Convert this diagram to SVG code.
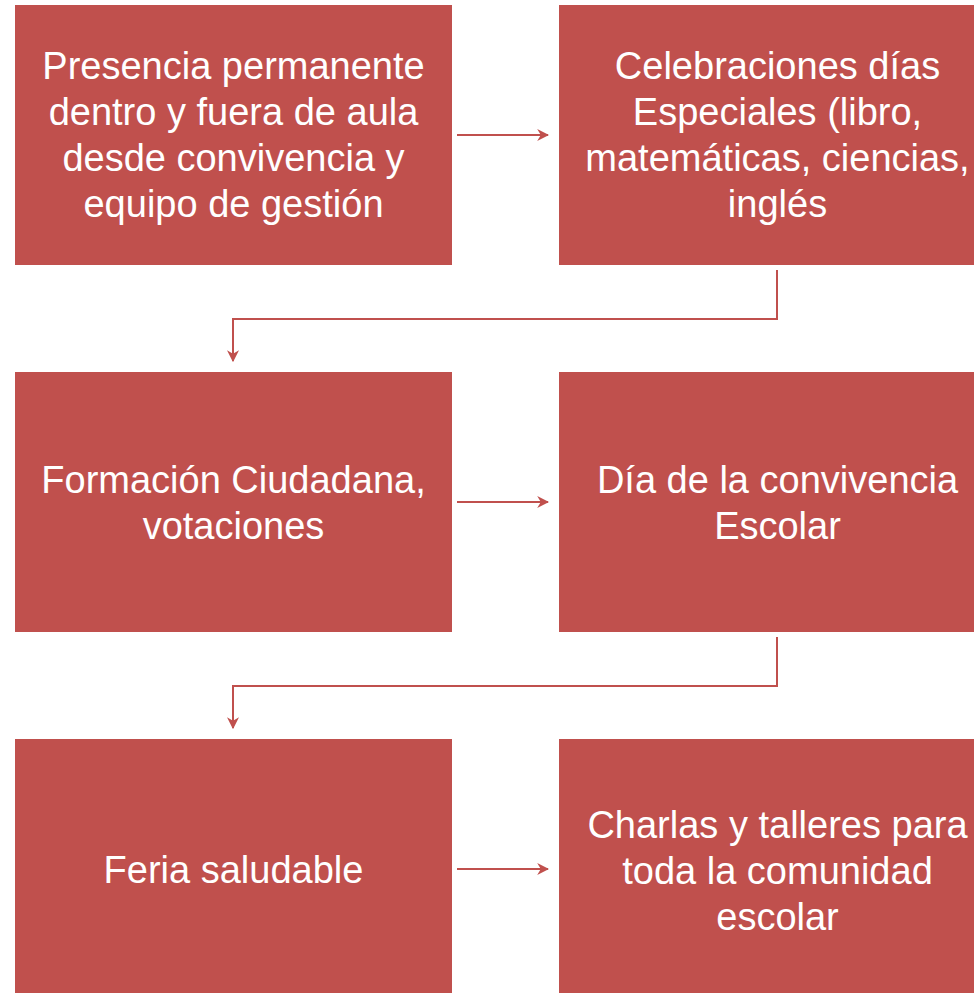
<svg xmlns="http://www.w3.org/2000/svg" width="974" height="993" viewBox="0 0 974 993">
<defs>
<style>
.box{fill:#C0504D;}
.t{fill:#FFFFFF;font-family:"Liberation Sans",Arial,sans-serif;font-size:38px;text-anchor:middle;}
.c{fill:none;stroke:#C0504D;stroke-width:2;}
</style>
<marker id="ah" viewBox="0 0 10 10" refX="9" refY="5" markerWidth="6" markerHeight="6" orient="auto" markerUnits="strokeWidth">
<path d="M0,0 L10,5 L0,10 L3,5 Z" fill="#C0504D"/>
</marker>
</defs>
<rect width="974" height="993" fill="#FFFFFF"/>
<g id="connectors">
<line class="c" x1="457" y1="135" x2="548" y2="135" marker-end="url(#ah)"/>
<polyline class="c" points="777,270 777,319 233,319 233,361" marker-end="url(#ah)"/>
<line class="c" x1="457" y1="502" x2="548" y2="502" marker-end="url(#ah)"/>
<polyline class="c" points="777,637 777,686 233,686 233,728" marker-end="url(#ah)"/>
<line class="c" x1="457" y1="869" x2="548" y2="869" marker-end="url(#ah)"/>
</g>
<g id="n1">
<rect class="box" x="15" y="5" width="437" height="260"/>
<text class="t"><tspan x="233.5" y="79">Presencia permanente</tspan><tspan x="233.5" y="125">dentro y fuera de aula</tspan><tspan x="233.5" y="171">desde convivencia y</tspan><tspan x="233.5" y="217">equipo de gestión</tspan></text>
</g>
<g id="n2">
<rect class="box" x="559" y="5" width="437" height="260"/>
<text class="t"><tspan x="777.5" y="79">Celebraciones días</tspan><tspan x="777.5" y="125">Especiales (libro,</tspan><tspan x="777.5" y="171">matemáticas, ciencias,</tspan><tspan x="777.5" y="217">inglés</tspan></text>
</g>
<g id="n3">
<rect class="box" x="15" y="372" width="437" height="260"/>
<text class="t"><tspan x="233.5" y="493">Formación Ciudadana,</tspan><tspan x="233.5" y="539">votaciones</tspan></text>
</g>
<g id="n4">
<rect class="box" x="559" y="372" width="437" height="260"/>
<text class="t"><tspan x="777.5" y="493">Día de la convivencia</tspan><tspan x="777.5" y="539">Escolar</tspan></text>
</g>
<g id="n5">
<rect class="box" x="15" y="739" width="437" height="260"/>
<text class="t"><tspan x="233.5" y="883">Feria saludable</tspan></text>
</g>
<g id="n6">
<rect class="box" x="559" y="739" width="437" height="260"/>
<text class="t"><tspan x="777.5" y="838">Charlas y talleres para</tspan><tspan x="777.5" y="884">toda la comunidad</tspan><tspan x="777.5" y="930">escolar</tspan></text>
</g>
</svg>
